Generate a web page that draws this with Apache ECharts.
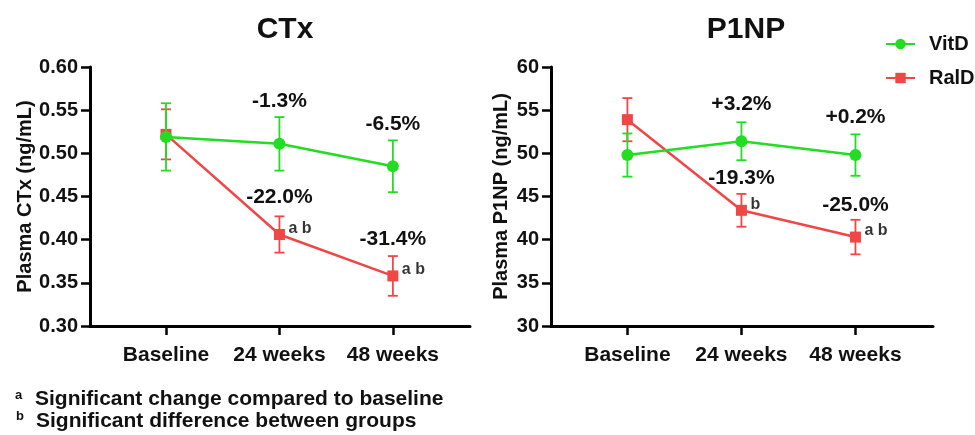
<!DOCTYPE html>
<html>
<head>
<meta charset="utf-8">
<script src="https://cdn.jsdelivr.net/npm/echarts@6/dist/echarts.min.js"></script>
<style>
html, body { margin: 0; padding: 0; background: #fff; }
#main { width: 975px; height: 435px; }
</style>
</head>
<body>
<div id="main"></div>
<script>
// data
var categories = ['Baseline', '24 weeks', '48 weeks'];

var ctxVitD = [0.519, 0.511, 0.485];
var ctxVitDErr = [0.039, 0.031, 0.030];
var ctxRalD = [0.522, 0.406, 0.358];
var ctxRalDErr = [0.029, 0.021, 0.023];
var ctxVitDPct = ['', '-1.3%', '-6.5%'];
var ctxRalDPct = ['', '-22.0%', '-31.4%'];
var ctxMarks = ['', 'a b', 'a b'];

var p1npVitD = [49.8, 51.4, 49.8];
var p1npVitDErr = [2.5, 2.2, 2.4];
var p1npRalD = [53.9, 43.4, 40.3];
var p1npRalDErr = [2.5, 1.9, 2.0];
var p1npVitDPct = ['', '+3.2%', '+0.2%'];
var p1npRalDPct = ['', '-19.3%', '-25.0%'];
var p1npMarks = ['', 'b', 'a b'];

var ctxTicks = [0.30, 0.35, 0.40, 0.45, 0.50, 0.55, 0.60];
var p1npTicks = [30, 35, 40, 45, 50, 55, 60];

var GREEN = '#22dd22';
var RED = '#f04646';
var FONT = 'Liberation Sans, Arial, sans-serif';

function pts(vals) {
	return vals.map(function(v, i) { return [i, v]; });
}
function errs(vals, err) {
	return vals.map(function(v, i) { return [i, v - err[i], v + err[i]]; });
}

// error bars with caps
function errorBar(color) {
	return function(params, api) {
		var x = api.value(0);
		var lo = api.coord([x, api.value(1)]);
		var hi = api.coord([x, api.value(2)]);
		var w = 5;
		var st = { stroke: color, lineWidth: 1.8 };
		return {
			type: 'group',
			children: [
				{ type: 'line', shape: { x1: lo[0], y1: lo[1], x2: hi[0], y2: hi[1] }, style: st },
				{ type: 'line', shape: { x1: lo[0] - w, y1: lo[1], x2: lo[0] + w, y2: lo[1] }, style: st },
				{ type: 'line', shape: { x1: hi[0] - w, y1: hi[1], x2: hi[0] + w, y2: hi[1] }, style: st }
			]
		};
	};
}

function xAxisOpt(idx) {
	return {
		type: 'value',
		gridIndex: idx,
		min: -0.67,
		max: 2.68,
		splitLine: { show: false },
		axisLine: { show: true, onZero: false, lineStyle: { color: '#000', width: 3 } },
		axisTick: { show: true, customValues: [0, 1, 2], length: 9, lineStyle: { color: '#000', width: 2.5 } },
		axisLabel: {
			customValues: [0, 1, 2],
			margin: 19,
			color: '#111',
			fontSize: 21,
			fontWeight: 'bold',
			fontFamily: FONT,
			formatter: function(v) { return categories[Math.round(v)]; }
		}
	};
}

function yAxisOpt(idx, ticks, name, gap, digits) {
	return {
		type: 'value',
		gridIndex: idx,
		min: ticks[0],
		max: ticks[ticks.length - 1],
		interval: ticks[1] - ticks[0],
		name: name,
		nameLocation: 'middle',
		nameGap: gap,
		nameTextStyle: { color: '#111', fontSize: 20, fontWeight: 'bold', fontFamily: FONT },
		splitLine: { show: false },
		axisLine: { show: true, onZero: false, lineStyle: { color: '#000', width: 3 } },
		axisTick: { show: true, length: 9, lineStyle: { color: '#000', width: 2.5 } },
		axisLabel: {
			margin: 12,
			color: '#111',
			fontSize: 20,
			fontWeight: 'bold',
			fontFamily: FONT,
			formatter: function(v) { return v.toFixed(digits); }
		}
	};
}

function pctLabel(texts, dist) {
	return {
		show: true,
		position: 'top',
		distance: dist,
		color: '#111',
		fontSize: 21,
		fontWeight: 'bold',
		fontFamily: FONT,
		formatter: function(p) { return texts[p.dataIndex]; }
	};
}

function lineSeries(name, idx, vals, color, symbol, size, texts, dist, z) {
	return {
		name: name,
		type: 'line',
		xAxisIndex: idx,
		yAxisIndex: idx,
		data: pts(vals),
		symbol: symbol,
		symbolSize: size,
		z: z,
		itemStyle: { color: color },
		lineStyle: { color: color, width: 2.5 },
		label: pctLabel(texts, dist)
	};
}

function errSeries(idx, vals, err, color, z) {
	return {
		name: 'err',
		type: 'custom',
		xAxisIndex: idx,
		yAxisIndex: idx,
		data: errs(vals, err),
		renderItem: errorBar(color),
		z: z,
		silent: true
	};
}

function markSeries(idx, vals, marks) {
	return {
		name: 'marks',
		type: 'scatter',
		xAxisIndex: idx,
		yAxisIndex: idx,
		data: pts(vals),
		symbolSize: 12,
		itemStyle: { color: 'rgba(0,0,0,0)' },
		silent: true,
		label: {
			show: true,
			position: 'right',
			distance: 3,
			offset: [0, -6],
			color: '#000',
			fontSize: 16,
			fontWeight: 'bold',
			fontFamily: FONT,
			formatter: function(p) { return marks[p.dataIndex]; }
		}
	};
}

var chart = echarts.init(document.getElementById('main'));
var option = {
	backgroundColor: '#fff',
	animation: false,
	title: [
		{ text: 'CTx', left: 280, top: 10, textAlign: 'center',
			textStyle: { fontSize: 30, fontWeight: 'bold', color: '#111', fontFamily: FONT } },
		{ text: 'P1NP', left: 741, top: 10, textAlign: 'center',
			textStyle: { fontSize: 30, fontWeight: 'bold', color: '#111', fontFamily: FONT } }
	],
	legend: {
		data: ['VitD', 'RalD'],
		orient: 'vertical',
		left: 880,
		top: 29,
		itemWidth: 29,
		itemHeight: 13,
		itemGap: 14,
		textStyle: { fontSize: 20, fontWeight: 'bold', color: '#111', fontFamily: FONT, padding: [0, 0, 0, 9] }
	},
	grid: [
		{ left: 90, right: 505, top: 67, bottom: 109 },
		{ left: 551, right: 42, top: 67, bottom: 109 }
	],
	xAxis: [xAxisOpt(0), xAxisOpt(1)],
	yAxis: [
		yAxisOpt(0, ctxTicks, 'Plasma CTx (ng/mL)', 55, 2),
		yAxisOpt(1, p1npTicks, 'Plasma P1NP (ng/mL)', 40, 0)
	],
	graphic: [
		{ type: 'text', left: 15, top: 389, style: { text: 'a', fontSize: 13, fontWeight: 'bold', fill: '#111', fontFamily: FONT } },
		{ type: 'text', left: 35, top: 389, style: { text: 'Significant change compared to baseline', fontSize: 21, fontWeight: 'bold', fill: '#111', fontFamily: FONT } },
		{ type: 'text', left: 16, top: 410, style: { text: 'b', fontSize: 13, fontWeight: 'bold', fill: '#111', fontFamily: FONT } },
		{ type: 'text', left: 36, top: 411, style: { text: 'Significant difference between groups', fontSize: 21, fontWeight: 'bold', fill: '#111', fontFamily: FONT } }
	],
	series: [
		errSeries(0, ctxRalD, ctxRalDErr, RED, 2),
		lineSeries('RalD', 0, ctxRalD, RED, 'rect', 11, ctxRalDPct, 21, 3),
		errSeries(0, ctxVitD, ctxVitDErr, GREEN, 4),
		lineSeries('VitD', 0, ctxVitD, GREEN, 'circle', 12, ctxVitDPct, 26, 5),
		markSeries(0, ctxRalD, ctxMarks),

		errSeries(1, p1npRalD, p1npRalDErr, RED, 2),
		lineSeries('RalD', 1, p1npRalD, RED, 'rect', 11, p1npRalDPct, 16, 3),
		errSeries(1, p1npVitD, p1npVitDErr, GREEN, 4),
		lineSeries('VitD', 1, p1npVitD, GREEN, 'circle', 12, p1npVitDPct, 21, 5),
		markSeries(1, p1npRalD, p1npMarks)
	]
};
chart.setOption(option);
window.onresize = chart.resize;
</script>
</body>
</html>
